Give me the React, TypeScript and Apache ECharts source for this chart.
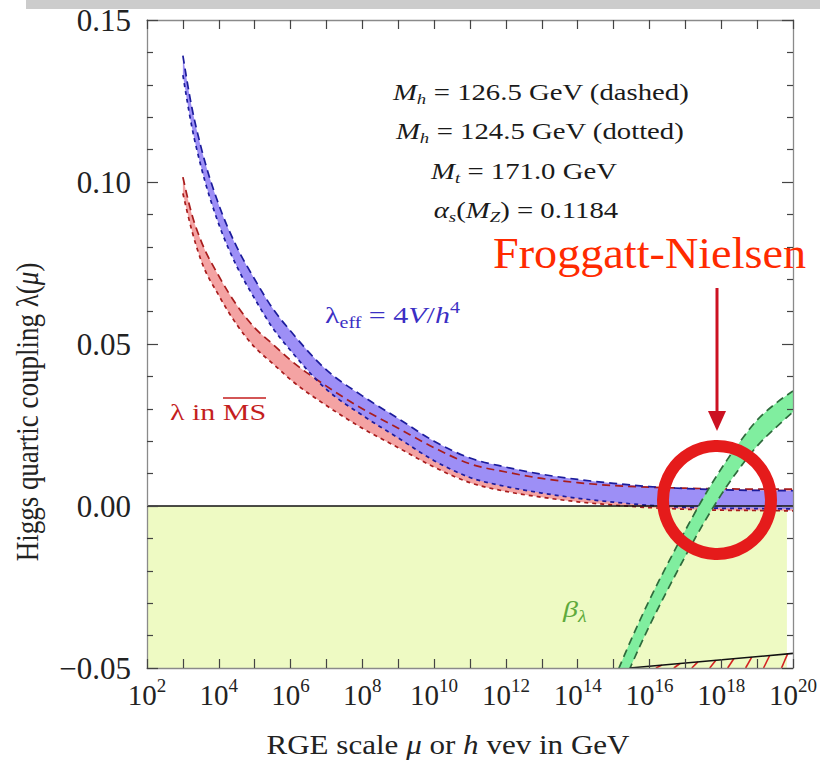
import React, { useEffect, useRef } from "react";
import * as echarts from "echarts";

// ---- axes ----
const X_MIN = 2; // exponent of 10 (GeV)
const X_MAX = 20;
const X_STEP = 2;
const Y_MIN = -0.05;
const Y_MAX = 0.15;
const Y_STEP = 0.05;

// ---- lambda bands (x = log10 of scale in GeV) ----
const bandL = [3, 3.25, 3.5, 4, 4.5, 5, 5.5, 6, 7, 8, 9, 10, 11, 12, 13, 14, 15, 16, 17, 18, 19, 20];
const blueUpper = [0.139, 0.123, 0.111, 0.093, 0.080, 0.070, 0.061, 0.054, 0.042, 0.034, 0.027, 0.020, 0.0148, 0.0120, 0.0098, 0.0082, 0.0070, 0.0060, 0.0054, 0.0050, 0.0048, 0.0047];
const blueLower = [0.133, 0.117, 0.105, 0.087, 0.074, 0.064, 0.055, 0.048, 0.036, 0.028, 0.021, 0.014, 0.0088, 0.0060, 0.0040, 0.0024, 0.0012, 0.0002, -0.0004, -0.0007, -0.0008, -0.0009];
const redUpper = [0.1015, 0.090, 0.082, 0.071, 0.062, 0.055, 0.050, 0.045, 0.037, 0.030, 0.024, 0.018, 0.013, 0.0105, 0.0085, 0.0072, 0.0063, 0.0058, 0.0055, 0.0053, 0.0052, 0.0052];
const redLower = [0.0965, 0.085, 0.076, 0.065, 0.056, 0.049, 0.044, 0.039, 0.031, 0.024, 0.018, 0.012, 0.0072, 0.0045, 0.0027, 0.0013, 0.0003, -0.0005, -0.0010, -0.0013, -0.0014, -0.0015];

// ---- beta_lambda band ----
const greenL = [15, 15.5, 16, 16.5, 17, 17.5, 18, 18.5, 19, 19.5, 20];
const greenUpper = [-0.054, -0.041, -0.029, -0.018, -0.0075, 0.0025, 0.0115, 0.0195, 0.0265, 0.0315, 0.0355];
const greenLower = [-0.062, -0.049, -0.037, -0.026, -0.0155, -0.0055, 0.0035, 0.0115, 0.0185, 0.024, 0.029];

// ---- negative-beta region, zero line, lower bound line + hatch ----
const betaRegion = [[2, -0.05, 19.83, 0]];
const zeroLineL = [2, 20];
const zeroLineV = [0, 0];
const boundL = [15.45, 20];
const boundV = [-0.05, -0.0455];
const hatchL = [16.35, 16.85, 17.35, 17.85, 18.35, 18.85, 19.35, 19.85];

const SERIF = "'Liberation Serif', 'Times New Roman', serif";
const SX = 1.25;

const pairs = (xs: number[], ys: number[]) => xs.map((x, i) => [x, ys[i]]);

// monotone cubic (in pixel space) path commands through points
function tangents(p: number[][]) {
  const n = p.length;
  const t = new Array(n).fill(0);
  const s: number[] = [];
  for (let i = 0; i < n - 1; i++) {
    const h = p[i + 1][0] - p[i][0];
    s.push(h ? (p[i + 1][1] - p[i][1]) / h : 0);
  }
  for (let i = 1; i < n - 1; i++) {
    const h0 = p[i][0] - p[i - 1][0];
    const h1 = p[i + 1][0] - p[i][0];
    const s0 = s[i - 1];
    const s1 = s[i];
    const pp = (s0 * h1 + s1 * h0) / (h0 + h1);
    t[i] = (Math.sign(s0) + Math.sign(s1)) * Math.min(Math.abs(s0), Math.abs(s1), 0.5 * Math.abs(pp)) || 0;
  }
  if (n > 1) {
    t[0] = (3 * s[0] - t[1]) / 2;
    t[n - 1] = (3 * s[n - 2] - t[n - 2]) / 2;
  }
  return t;
}
const f = (q: number[]) => `${q[0].toFixed(2)} ${q[1].toFixed(2)}`;
function curve(p: number[][], reverse = false) {
  const t = tangents(p);
  const segs: string[] = [];
  for (let i = 0; i < p.length - 1; i++) {
    const a = p[i];
    const b = p[i + 1];
    const dx = (b[0] - a[0]) / 3;
    const c1 = [a[0] + dx, a[1] + dx * t[i]];
    const c2 = [b[0] - dx, b[1] - dx * t[i + 1]];
    segs.push(reverse ? `C${f(c2)} ${f(c1)} ${f(a)}` : `C${f(c1)} ${f(c2)} ${f(b)}`);
  }
  return (reverse ? segs.reverse() : segs).join(" ");
}

function clipOf(params: any) {
  const cs = params.coordSys;
  return { type: "rect", shape: { x: cs.x, y: cs.y, width: cs.width, height: cs.height } };
}

function bandFill(xs: number[], up: number[], lo: number[], fill: string, z: number) {
  return {
    type: "custom",
    data: [[xs[0], lo[0]]],
    encode: { x: 0, y: 1 },
    silent: true,
    z,
    renderItem: (params: any, api: any) => {
      const top = xs.map((x, i) => api.coord([x, up[i]]));
      const bot = xs.map((x, i) => api.coord([x, lo[i]]));
      const d = `M${f(top[0])} ${curve(top)} L${f(bot[bot.length - 1])} ${curve(bot, true)} Z`;
      return {
        type: "group",
        clipPath: clipOf(params),
        children: [{ type: "path", shape: { pathData: d }, style: { fill, stroke: "none" } }],
      };
    },
  };
}

function edge(xs: number[], ys: number[], color: string, dash: number[], z: number) {
  return {
    type: "custom",
    data: [[xs[0], ys[0]]],
    encode: { x: 0, y: 1 },
    silent: true,
    z,
    renderItem: (params: any, api: any) => {
      const pts = xs.map((x, i) => api.coord([x, ys[i]]));
      const d = `M${f(pts[0])} ${curve(pts)}`;
      return {
        type: "group",
        clipPath: clipOf(params),
        children: [
          { type: "path", shape: { pathData: d }, style: { fill: "none", stroke: color, lineWidth: 1.7, lineDash: dash } },
        ],
      };
    },
  };
}

function interpBound(L: number) {
  const t = (L - boundL[0]) / (boundL[1] - boundL[0]);
  return boundV[0] + t * (boundV[1] - boundV[0]);
}

const axisLine = { show: true, onZero: false, lineStyle: { color: "#8a8a8a", width: 1.3 } };
const tickStyle = { color: "#444", width: 1.2 };

function xAxisCfg(position: string, labels: boolean) {
  return {
    type: "value",
    min: X_MIN,
    max: X_MAX,
    interval: X_STEP,
    position,
    z: 10,
    axisLine,
    axisTick: { show: true, inside: true, length: 9, lineStyle: tickStyle },
    minorTick: { show: true, splitNumber: 2, length: 9, lineStyle: tickStyle },
    splitLine: { show: false },
    minorSplitLine: { show: false },
    axisLabel: labels
      ? {
          margin: 8,
          formatter: (v: number) => `{b|10}{s|${v}}`,
          rich: {
            b: { fontSize: 29, lineHeight: 37, fontFamily: SERIF, color: "#222" },
            s: { fontSize: 19, verticalAlign: "top", fontFamily: SERIF, color: "#222" },
          },
        }
      : { show: false },
  };
}

function yAxisCfg(position: string, labels: boolean) {
  return {
    type: "value",
    min: Y_MIN,
    max: Y_MAX,
    interval: Y_STEP,
    position,
    z: 10,
    axisLine,
    axisTick: { show: true, inside: true, length: 11, lineStyle: tickStyle },
    minorTick: { show: true, splitNumber: 5, length: 6, lineStyle: tickStyle },
    splitLine: { show: false },
    minorSplitLine: { show: false },
    axisLabel: labels
      ? {
          margin: 16,
          fontSize: 31,
          fontFamily: SERIF,
          color: "#222",
          formatter: (v: number) => {
            const r = Math.round(v * 100) / 100;
            return (r < 0 ? "\u2212" : "") + Math.abs(r).toFixed(2);
          },
        }
      : { show: false },
  };
}

const richFig = (size: number, color: string) => ({
  i: { fontStyle: "italic", fontSize: size, fontFamily: SERIF, fill: color },
  sub: { fontStyle: "italic", fontSize: Math.round(size * 0.65), fontFamily: SERIF, verticalAlign: "bottom", lineHeight: Math.round(size * 0.65), fill: color },
  subr: { fontSize: Math.round(size * 0.65), fontFamily: SERIF, verticalAlign: "bottom", lineHeight: Math.round(size * 0.65), fill: color },
  sup: { fontSize: Math.round(size * 0.65), fontFamily: SERIF, verticalAlign: "top", lineHeight: Math.round(size * 0.65), fill: color },
});

function figText(x: number, y: number, text: string, size: number, color: string, align = "center") {
  return {
    type: "text",
    x,
    y,
    scaleX: SX,
    z: 50,
    silent: true,
    style: {
      text,
      align,
      verticalAlign: "middle",
      fontFamily: SERIF,
      fontSize: size,
      lineHeight: Math.round(size * 1.3),
      fill: color,
      rich: richFig(size, color),
    },
  };
}

const option = {
  animation: false,
  backgroundColor: "#ffffff",
  grid: { left: 147, right: 27, top: 20, bottom: 96, containLabel: false },
  xAxis: [xAxisCfg("bottom", true), xAxisCfg("top", false)],
  yAxis: [yAxisCfg("left", true), yAxisCfg("right", false)],
  series: [
    {
      type: "custom",
      data: betaRegion,
      encode: { x: [0, 2], y: [1, 3] },
      silent: true,
      z: 1,
      renderItem: (_p: any, api: any) => {
        const a = api.coord([api.value(0), api.value(1)]);
        const b = api.coord([api.value(2), api.value(3)]);
        return {
          type: "rect",
          shape: { x: a[0], y: b[1], width: b[0] - a[0], height: a[1] - b[1] },
          style: { fill: "#eefac3" },
        };
      },
    },
    bandFill(bandL, redUpper, redLower, "#f4a3a3", 2),
    bandFill(bandL, blueUpper, blueLower, "#9d8ff6", 3),
    edge(bandL, redUpper, "#a81c1c", [8, 5], 5),
    edge(bandL, redLower, "#a81c1c", [4, 4], 5),
    edge(bandL, blueUpper, "#1c1c9c", [8, 5], 5),
    edge(bandL, blueLower, "#1c1c9c", [4, 4], 5),
    {
      type: "line",
      data: pairs(zeroLineL, zeroLineV),
      symbol: "none",
      silent: true,
      z: 6,
      lineStyle: { color: "#111", width: 1.6 },
    },
    bandFill(greenL, greenUpper, greenLower, "#80ee9f", 7),
    edge(greenL, greenUpper, "#2e6b3c", [8, 5], 8),
    edge(greenL, greenLower, "#2e6b3c", [8, 5], 8),
    {
      type: "line",
      data: pairs(boundL, boundV),
      symbol: "none",
      silent: true,
      z: 8,
      lineStyle: { color: "#111", width: 1.6 },
    },
    {
      type: "custom",
      data: hatchL.map((L) => [L, Y_MIN]),
      encode: { x: 0, y: 1 },
      silent: true,
      z: 8,
      renderItem: (_p: any, api: any) => {
        const L = api.value(0);
        const p1 = api.coord([L - 0.17, Y_MIN]);
        const p2 = api.coord([L, interpBound(L)]);
        return {
          type: "line",
          shape: { x1: p1[0], y1: p1[1], x2: p2[0], y2: p2[1] },
          style: { stroke: "#d42222", lineWidth: 1.6 },
        };
      },
    },
  ],
  graphic: {
    elements: [
      { type: "rect", z: 0, silent: true, shape: { x: 26, y: 0, width: 794, height: 9 }, style: { fill: "#cccccc" } },
      figText(541, 92, "{i|M}{sub|h} = 126.5 GeV (dashed)", 23, "#1a1a1a"),
      figText(540, 131, "{i|M}{sub|h} = 124.5 GeV (dotted)", 23, "#1a1a1a"),
      figText(524, 171, "{i|M}{sub|t} = 171.0 GeV", 23, "#1a1a1a"),
      figText(526, 210, "{i|\u03b1}{sub|s}({i|M}{sub|Z}) = 0.1184", 23, "#1a1a1a"),
      figText(325, 315, "\u03bb{subr|eff} = 4{i|V}/{i|h}{sup|4}", 24, "#3b2fc4", "left"),
      figText(170, 412, "\u03bb in MS", 24, "#c41e1e", "left"),
      { type: "line", z: 50, silent: true, shape: { x1: 223, y1: 398, x2: 266, y2: 398 }, style: { stroke: "#c41e1e", lineWidth: 1.5 } },
      figText(563, 609, "{i|\u03b2}{sub|\u03bb}", 24, "#5faa3c", "left"),
      {
        type: "text",
        x: 448,
        y: 745,
        scaleX: 1.15,
        z: 50,
        silent: true,
        style: {
          text: "RGE scale {i|\u03bc} or {i|h} vev in GeV",
          align: "center",
          verticalAlign: "middle",
          fontFamily: SERIF,
          fontSize: 27,
          fill: "#222",
          rich: { i: { fontStyle: "italic", fontSize: 27, fontFamily: SERIF, fill: "#222" } },
        },
      },
      {
        type: "text",
        x: 27,
        y: 412,
        rotation: Math.PI / 2,
        scaleY: 1.15,
        z: 50,
        silent: true,
        style: {
          text: "Higgs quartic coupling \u03bb({i|\u03bc})",
          align: "center",
          verticalAlign: "middle",
          fontFamily: SERIF,
          fontSize: 27,
          fill: "#222",
          rich: { i: { fontStyle: "italic", fontSize: 27, fontFamily: SERIF, fill: "#222" } },
        },
      },
      {
        type: "text",
        x: 493,
        y: 253,
        scaleX: 1.05,
        z: 60,
        silent: true,
        style: { text: "Froggatt-Nielsen", align: "left", verticalAlign: "middle", fontFamily: SERIF, fontSize: 44, fill: "#ff2a00" },
      },
      { type: "line", z: 60, silent: true, shape: { x1: 717, y1: 288, x2: 717, y2: 418 }, style: { stroke: "#cc1122", lineWidth: 3 } },
      { type: "polygon", z: 60, silent: true, shape: { points: [[708, 411], [726, 411], [717, 431]] }, style: { fill: "#cc1122" } },
      { type: "circle", z: 60, silent: true, shape: { cx: 717, cy: 500, r: 54 }, style: { fill: "none", stroke: "#e51b1b", lineWidth: 12 } },
    ],
  },
};

export default function App() {
  const ref = useRef<HTMLDivElement>(null);
  useEffect(() => {
    if (!ref.current) return;
    const chart = echarts.init(ref.current, null, { renderer: "svg" });
    chart.setOption(option as any);
    return () => chart.dispose();
  }, []);
  return (
    <div
      ref={ref}
      style={{ position: "absolute", left: 0, top: 0, width: 820, height: 764, background: "#fff" }}
    />
  );
}
